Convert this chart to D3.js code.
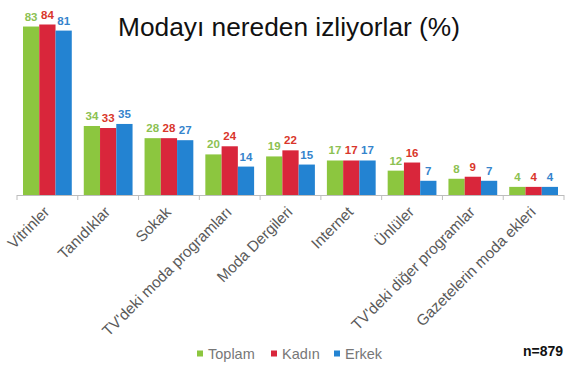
<!DOCTYPE html>
<html>
<head>
<meta charset="utf-8">
<script src="https://cdn.jsdelivr.net/npm/d3@7"></script>
<style>
  body { margin: 0; background: #fff; }
  svg { display: block; font-family: "Liberation Sans", Arial, sans-serif; }
</style>
</head>
<body>
<svg id="chart" width="574" height="370"></svg>
<script>
// Data
const categories = [
  "Vitrinler",
  "Tanıdıklar",
  "Sokak",
  "TV'deki moda programları",
  "Moda Dergileri",
  "Internet",
  "Ünlüler",
  "TV'deki diğer programlar",
  "Gazetelerin moda ekleri",
];
const seriesNames = ["Toplam", "Kadın", "Erkek"];
const toplam = [83, 34, 28, 20, 19, 17, 12, 8, 4];
const kadin = [84, 33, 28, 24, 22, 17, 16, 9, 4];
const erkek = [81, 35, 27, 14, 15, 17, 7, 7, 4];

const barColors = ["#8cc63f", "#d9263b", "#2383d2"];
const labelColors = ["#8cc152", "#d9362b", "#3584cc"];

const svg = d3.select("#chart");

const x0 = d3.scaleBand().domain(categories).range([17, 564]).paddingInner(0).paddingOuter(0);
const x1 = d3.scaleBand().domain(seriesNames).range([6, x0.bandwidth() - 6]).padding(0);
const y = d3.scaleLinear().domain([0, 84]).range([195, 24.5]);

const rows = categories.map((c, i) => ({
  cat: c,
  values: [toplam[i], kadin[i], erkek[i]].map((v, j) => ({ key: seriesNames[j], v, j })),
}));

// Title
svg.append("text")
  .attr("x", 289)
  .attr("y", 36)
  .attr("text-anchor", "middle")
  .style("font-size", "26.3px")
  .attr("fill", "#111")
  .text("Modayı nereden izliyorlar (%)");

// Bars
const groups = svg.append("g")
  .selectAll("g")
  .data(rows)
  .join("g")
  .attr("transform", (d) => `translate(${x0(d.cat)},0)`);

groups.selectAll("rect")
  .data((d) => d.values)
  .join("rect")
  .attr("x", (d) => x1(d.key))
  .attr("y", (d) => y(d.v))
  .attr("width", x1.bandwidth())
  .attr("height", (d) => y(0) - y(d.v))
  .attr("fill", (d) => barColors[d.j]);

groups.selectAll("text")
  .data((d) => d.values)
  .join("text")
  .attr("x", (d) => x1(d.key) + x1.bandwidth() / 2)
  .attr("y", (d) => y(d.v) - 6)
  .attr("text-anchor", "middle")
  .style("font-size", "11.5px")
  .style("font-weight", "bold")
  .attr("fill", (d) => labelColors[d.j])
  .text((d) => d.v);

// Axis
const axis = svg.append("g");
axis.append("line")
  .attr("x1", x0.range()[0])
  .attr("x2", x0.range()[1])
  .attr("y1", y(0) + 0.5)
  .attr("y2", y(0) + 0.5)
  .attr("stroke", "#bdbdbd");

axis.selectAll(".tick")
  .data(categories.concat([null]))
  .join("line")
  .attr("class", "tick")
  .attr("x1", (d) => (d === null ? x0.range()[1] : x0(d)))
  .attr("x2", (d) => (d === null ? x0.range()[1] : x0(d)))
  .attr("y1", y(0))
  .attr("y2", y(0) + 5)
  .attr("stroke", "#bdbdbd");

axis.selectAll(".xlabel")
  .data(categories)
  .join("text")
  .attr("class", "xlabel")
  .attr("text-anchor", "end")
  .attr("transform", (d) => `translate(${x0(d) + x0.bandwidth() / 2 + 3},${y(0) + 18}) rotate(-45)`)
  .style("font-size", "15.3px")
  .attr("fill", "#5a5a5a")
  .text((d) => d);

// Legend
const legendX = [197, 271, 334];
const legend = svg.append("g")
  .selectAll("g")
  .data(seriesNames)
  .join("g")
  .attr("transform", (d, i) => `translate(${legendX[i]},359)`);

legend.append("rect")
  .attr("x", 0)
  .attr("y", -8.5)
  .attr("width", 6)
  .attr("height", 6)
  .attr("fill", (d, i) => barColors[i]);

legend.append("text")
  .attr("x", 11)
  .attr("y", 0)
  .style("font-size", "14.5px")
  .attr("fill", "#777")
  .text((d) => d);

svg.append("text")
  .attr("x", 563)
  .attr("y", 356)
  .attr("text-anchor", "end")
  .style("font-size", "14px")
  .style("font-weight", "bold")
  .attr("fill", "#111")
  .text("n=879");
</script>
</body>
</html>
